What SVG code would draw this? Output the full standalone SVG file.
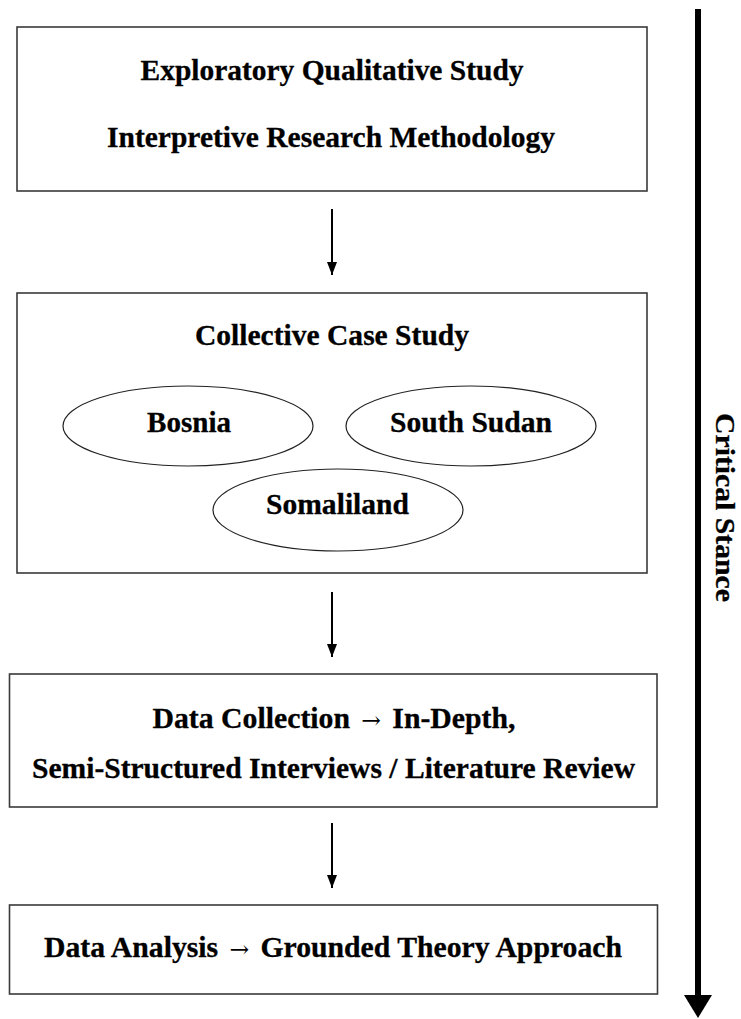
<svg xmlns="http://www.w3.org/2000/svg" width="741" height="1019" viewBox="0 0 741 1019">
<style>
.box{fill:#fff;stroke:#3a3a3a;stroke-width:1.6}
.ell{fill:#fff;stroke:#222;stroke-width:1.2}
.t{font-family:"Liberation Serif","Times New Roman",serif;font-weight:bold;font-size:29px;fill:#000;stroke:#000;stroke-width:0.3;text-anchor:middle}
.arr{font-family:"DejaVu Serif",serif;font-weight:normal;font-size:23px;stroke-width:0}
.sp{font-size:44px}
.conn{stroke:#000;stroke-width:2;fill:none}
</style>
<defs>
<marker id="ah" markerUnits="userSpaceOnUse" markerWidth="14" markerHeight="10" refX="13" refY="5" orient="auto" viewBox="0 0 14 10">
<path d="M0,0 L13,5 L0,10 Z" fill="#000"/>
</marker>
</defs>
<rect width="741" height="1019" fill="#fff"/>

<g id="node-exploratory">
<rect class="box" x="17" y="27" width="630" height="164"/>
<text class="t" x="332" y="80" textLength="383" lengthAdjust="spacingAndGlyphs">Exploratory Qualitative Study</text>
<text class="t" x="331" y="147" textLength="448" lengthAdjust="spacingAndGlyphs">Interpretive Research Methodology</text>
</g>

<g id="node-case-study">
<rect class="box" x="17" y="293" width="630" height="280"/>
<text class="t" x="332" y="345" textLength="274" lengthAdjust="spacingAndGlyphs">Collective Case Study</text>
</g>
<g id="node-bosnia">
<ellipse class="ell" cx="188" cy="426" rx="125" ry="40"/>
<text class="t" x="189" y="432" textLength="84" lengthAdjust="spacingAndGlyphs">Bosnia</text>
</g>
<g id="node-south-sudan">
<ellipse class="ell" cx="471" cy="426" rx="125" ry="40"/>
<text class="t" x="471" y="432" textLength="162" lengthAdjust="spacingAndGlyphs">South Sudan</text>
</g>
<g id="node-somaliland">
<ellipse class="ell" cx="338" cy="510" rx="125" ry="41"/>
<text class="t" x="337.5" y="514" textLength="143" lengthAdjust="spacingAndGlyphs">Somaliland</text>
</g>

<g id="node-data-collection">
<rect class="box" x="9.5" y="674" width="647.5" height="133"/>
<text class="t" x="334" y="728" textLength="363" lengthAdjust="spacingAndGlyphs">Data Collection<tspan class="sp"> </tspan><tspan class="arr">→</tspan><tspan class="sp"> </tspan>In-Depth,</text>
<text class="t" x="333.5" y="778" textLength="603" lengthAdjust="spacingAndGlyphs">Semi-Structured Interviews / Literature Review</text>
</g>

<g id="node-data-analysis">
<rect class="box" x="9.5" y="905" width="648" height="89"/>
<text class="t" x="333" y="957" textLength="578" lengthAdjust="spacingAndGlyphs">Data Analysis<tspan class="sp"> </tspan><tspan class="arr">→</tspan><tspan class="sp"> </tspan>Grounded Theory Approach</text>
</g>

<g id="node-critical-stance">
<text class="t" style="font-size:27px" transform="translate(716,507.5) rotate(90)" x="0" y="0" textLength="189" lengthAdjust="spacingAndGlyphs">Critical Stance</text>
</g>

<g id="connectors">
<line class="conn" x1="332" y1="209" x2="332" y2="275" marker-end="url(#ah)"/>
<line class="conn" x1="332" y1="592" x2="332" y2="657" marker-end="url(#ah)"/>
<line class="conn" x1="332" y1="823" x2="332" y2="888" marker-end="url(#ah)"/>
<line x1="698" y1="9" x2="698" y2="997" stroke="#000" stroke-width="6"/>
<polygon points="684,995 712,995 698,1018" fill="#000"/>
</g>
</svg>
